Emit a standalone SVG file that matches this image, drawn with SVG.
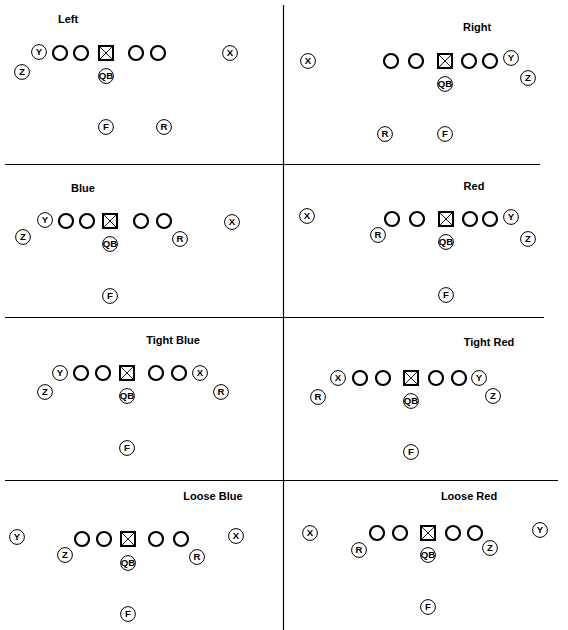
<svg xmlns="http://www.w3.org/2000/svg" xmlns:xlink="http://www.w3.org/1999/xlink" width="568" height="630" viewBox="0 0 568 630">
<style>
.ol{fill:#fff;stroke:#000;stroke-width:2.2}
.cb{fill:#fff;stroke:#000;stroke-width:2}
.cx{fill:none;stroke:#000;stroke-width:0.9}
.pc{fill:#fff;stroke:#000;stroke-width:1}
.lb{font-family:"Liberation Sans",Arial,sans-serif;font-weight:bold;font-size:9.6px;text-anchor:middle}
.tt{font-family:"Liberation Sans",Arial,sans-serif;font-weight:bold;font-size:11px;text-anchor:middle}
.dv{stroke:#000;stroke-width:1.2;fill:none}
</style>
<defs>
<circle id="lm" class="ol" r="7"/>
<g id="ctr"><rect class="cb" x="-7" y="-7" width="14" height="14"/><path class="cx" d="M-7-7L7 7M7-7L-7 7"/></g>
<circle id="pl" class="pc" r="7.4"/>
</defs>
<rect width="568" height="630" fill="#fff"/>
<g id="connectors">
<path class="dv" d="M283.5 5V630M5 164.5H540M5 317.5H544M5 480.5H558"/>
</g>

<g id="panel-left">
<text class="tt" x="68" y="23">Left</text>
<g id="left-line"><use xlink:href="#lm" x="60" y="53"/><use xlink:href="#lm" x="81" y="53"/><use xlink:href="#ctr" x="106" y="53"/><use xlink:href="#lm" x="136" y="53"/><use xlink:href="#lm" x="158" y="53"/></g>
<g id="left-Y"><use xlink:href="#pl" x="39" y="52"/><text class="lb" x="39" y="55.4">Y</text></g>
<g id="left-X"><use xlink:href="#pl" x="230" y="53"/><text class="lb" x="230" y="56.4">X</text></g>
<g id="left-Z"><use xlink:href="#pl" x="22" y="72"/><text class="lb" x="22" y="75.4">Z</text></g>
<g id="left-QB"><use xlink:href="#pl" x="106" y="76"/><text class="lb" x="106" y="79.4">QB</text></g>
<g id="left-F"><use xlink:href="#pl" x="106" y="127"/><text class="lb" x="106" y="130.4">F</text></g>
<g id="left-R"><use xlink:href="#pl" x="164" y="127"/><text class="lb" x="164" y="130.4">R</text></g>
</g>

<g id="panel-right">
<text class="tt" x="477" y="31">Right</text>
<g id="right-line"><use xlink:href="#lm" x="391" y="61"/><use xlink:href="#lm" x="416" y="61"/><use xlink:href="#ctr" x="445" y="61"/><use xlink:href="#lm" x="469" y="61"/><use xlink:href="#lm" x="490" y="61"/></g>
<g id="right-X"><use xlink:href="#pl" x="308" y="61"/><text class="lb" x="308" y="64.4">X</text></g>
<g id="right-Y"><use xlink:href="#pl" x="511" y="58"/><text class="lb" x="511" y="61.4">Y</text></g>
<g id="right-Z"><use xlink:href="#pl" x="528" y="78"/><text class="lb" x="528" y="81.4">Z</text></g>
<g id="right-QB"><use xlink:href="#pl" x="445" y="84"/><text class="lb" x="445" y="87.4">QB</text></g>
<g id="right-R"><use xlink:href="#pl" x="385" y="134"/><text class="lb" x="385" y="137.4">R</text></g>
<g id="right-F"><use xlink:href="#pl" x="445" y="134"/><text class="lb" x="445" y="137.4">F</text></g>
</g>

<g id="panel-blue">
<text class="tt" x="83" y="192">Blue</text>
<g id="blue-line"><use xlink:href="#lm" x="66" y="221"/><use xlink:href="#lm" x="87" y="221"/><use xlink:href="#ctr" x="110" y="221"/><use xlink:href="#lm" x="141" y="221"/><use xlink:href="#lm" x="164" y="221"/></g>
<g id="blue-Y"><use xlink:href="#pl" x="45" y="220"/><text class="lb" x="45" y="223.4">Y</text></g>
<g id="blue-X"><use xlink:href="#pl" x="232" y="222"/><text class="lb" x="232" y="225.4">X</text></g>
<g id="blue-Z"><use xlink:href="#pl" x="23" y="237"/><text class="lb" x="23" y="240.4">Z</text></g>
<g id="blue-R"><use xlink:href="#pl" x="180" y="239"/><text class="lb" x="180" y="242.4">R</text></g>
<g id="blue-QB"><use xlink:href="#pl" x="110" y="244"/><text class="lb" x="110" y="247.4">QB</text></g>
<g id="blue-F"><use xlink:href="#pl" x="110" y="296"/><text class="lb" x="110" y="299.4">F</text></g>
</g>

<g id="panel-red">
<text class="tt" x="474" y="190">Red</text>
<g id="red-line"><use xlink:href="#lm" x="392" y="219"/><use xlink:href="#lm" x="417" y="219"/><use xlink:href="#ctr" x="446" y="219"/><use xlink:href="#lm" x="470" y="219"/><use xlink:href="#lm" x="490" y="219"/></g>
<g id="red-X"><use xlink:href="#pl" x="307" y="216"/><text class="lb" x="307" y="219.4">X</text></g>
<g id="red-Y"><use xlink:href="#pl" x="511" y="217"/><text class="lb" x="511" y="220.4">Y</text></g>
<g id="red-R"><use xlink:href="#pl" x="378" y="235"/><text class="lb" x="378" y="238.4">R</text></g>
<g id="red-Z"><use xlink:href="#pl" x="528" y="239"/><text class="lb" x="528" y="242.4">Z</text></g>
<g id="red-QB"><use xlink:href="#pl" x="446" y="242"/><text class="lb" x="446" y="245.4">QB</text></g>
<g id="red-F"><use xlink:href="#pl" x="446" y="295"/><text class="lb" x="446" y="298.4">F</text></g>
</g>

<g id="panel-tight-blue">
<text class="tt" x="173" y="344">Tight Blue</text>
<g id="tblue-line"><use xlink:href="#lm" x="81" y="373"/><use xlink:href="#lm" x="103" y="373"/><use xlink:href="#ctr" x="127" y="373"/><use xlink:href="#lm" x="156" y="373"/><use xlink:href="#lm" x="179" y="373"/></g>
<g id="tblue-Y"><use xlink:href="#pl" x="60" y="373"/><text class="lb" x="60" y="376.4">Y</text></g>
<g id="tblue-X"><use xlink:href="#pl" x="200" y="373"/><text class="lb" x="200" y="376.4">X</text></g>
<g id="tblue-Z"><use xlink:href="#pl" x="45" y="392"/><text class="lb" x="45" y="395.4">Z</text></g>
<g id="tblue-R"><use xlink:href="#pl" x="221" y="392"/><text class="lb" x="221" y="395.4">R</text></g>
<g id="tblue-QB"><use xlink:href="#pl" x="127" y="396"/><text class="lb" x="127" y="399.4">QB</text></g>
<g id="tblue-F"><use xlink:href="#pl" x="127" y="448"/><text class="lb" x="127" y="451.4">F</text></g>
</g>

<g id="panel-tight-red">
<text class="tt" x="489" y="346">Tight Red</text>
<g id="tred-line"><use xlink:href="#lm" x="360" y="378"/><use xlink:href="#lm" x="383" y="378"/><use xlink:href="#ctr" x="411" y="378"/><use xlink:href="#lm" x="436" y="378"/><use xlink:href="#lm" x="459" y="378"/></g>
<g id="tred-X"><use xlink:href="#pl" x="338" y="378"/><text class="lb" x="338" y="381.4">X</text></g>
<g id="tred-Y"><use xlink:href="#pl" x="479" y="378"/><text class="lb" x="479" y="381.4">Y</text></g>
<g id="tred-R"><use xlink:href="#pl" x="318" y="397"/><text class="lb" x="318" y="400.4">R</text></g>
<g id="tred-Z"><use xlink:href="#pl" x="493" y="396"/><text class="lb" x="493" y="399.4">Z</text></g>
<g id="tred-QB"><use xlink:href="#pl" x="411" y="401"/><text class="lb" x="411" y="404.4">QB</text></g>
<g id="tred-F"><use xlink:href="#pl" x="411" y="452"/><text class="lb" x="411" y="455.4">F</text></g>
</g>

<g id="panel-loose-blue">
<text class="tt" x="213" y="500">Loose Blue</text>
<g id="lblue-line"><use xlink:href="#lm" x="82" y="539"/><use xlink:href="#lm" x="104" y="539"/><use xlink:href="#ctr" x="128" y="539"/><use xlink:href="#lm" x="156" y="539"/><use xlink:href="#lm" x="181" y="539"/></g>
<g id="lblue-Y"><use xlink:href="#pl" x="17" y="537"/><text class="lb" x="17" y="540.4">Y</text></g>
<g id="lblue-X"><use xlink:href="#pl" x="236" y="536"/><text class="lb" x="236" y="539.4">X</text></g>
<g id="lblue-Z"><use xlink:href="#pl" x="65" y="555"/><text class="lb" x="65" y="558.4">Z</text></g>
<g id="lblue-R"><use xlink:href="#pl" x="197" y="557"/><text class="lb" x="197" y="560.4">R</text></g>
<g id="lblue-QB"><use xlink:href="#pl" x="128" y="563"/><text class="lb" x="128" y="566.4">QB</text></g>
<g id="lblue-F"><use xlink:href="#pl" x="128" y="614"/><text class="lb" x="128" y="617.4">F</text></g>
</g>

<g id="panel-loose-red">
<text class="tt" x="469" y="500">Loose Red</text>
<g id="lred-line"><use xlink:href="#lm" x="377" y="533"/><use xlink:href="#lm" x="400" y="533"/><use xlink:href="#ctr" x="428" y="533"/><use xlink:href="#lm" x="453" y="533"/><use xlink:href="#lm" x="475" y="533"/></g>
<g id="lred-X"><use xlink:href="#pl" x="310" y="533"/><text class="lb" x="310" y="536.4">X</text></g>
<g id="lred-Y"><use xlink:href="#pl" x="540" y="530"/><text class="lb" x="540" y="533.4">Y</text></g>
<g id="lred-R"><use xlink:href="#pl" x="359" y="550"/><text class="lb" x="359" y="553.4">R</text></g>
<g id="lred-Z"><use xlink:href="#pl" x="490" y="548"/><text class="lb" x="490" y="551.4">Z</text></g>
<g id="lred-QB"><use xlink:href="#pl" x="428" y="555"/><text class="lb" x="428" y="558.4">QB</text></g>
<g id="lred-F"><use xlink:href="#pl" x="428" y="607"/><text class="lb" x="428" y="610.4">F</text></g>
</g>
</svg>
